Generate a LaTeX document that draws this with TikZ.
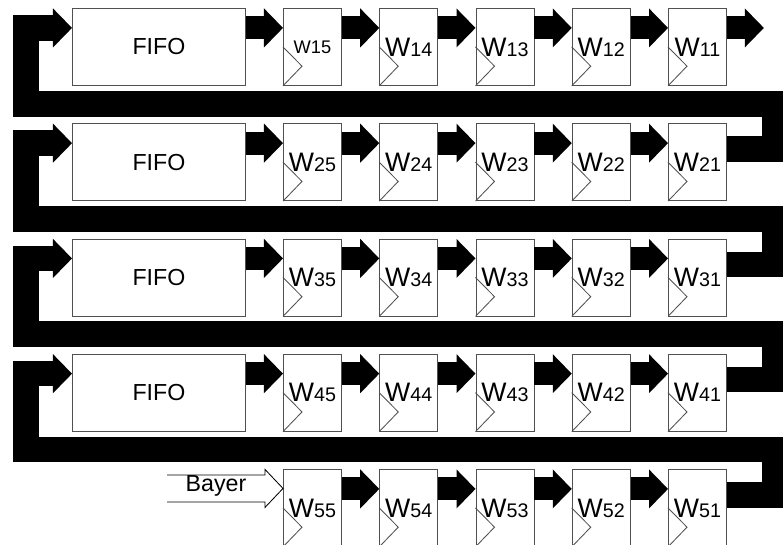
\documentclass[tikz,border=0pt]{standalone}
\usepackage{fontspec}
\setmainfont{Liberation Sans}
\usetikzlibrary{arrows.meta,calc}
\definecolor{boxgray}{HTML}{505050}
\newcommand{\wlabel}[1]{{\fontsize{19}{19}\selectfont W}{\fontsize{14}{14}\selectfont #1}}
\tikzset{
  wreg/.style={
    draw=boxgray,
    fill=white,
    line width=0.6pt,
    inner sep=0pt,
    minimum width=1.45cm,
    minimum height=1.925cm,
    anchor=north west
  },
  fifo/.style={
    wreg,
    minimum width=4.325cm,
    font=\fontsize{16.5}{16.5}\selectfont
  },
  clk/.style={
    draw=boxgray,
    line width=0.6pt
  },
  bus/.style={
    line width=0.575cm,
    -{Triangle[width=0.975cm,length=0.475cm,line width=0pt]}
  },
  feedback/.style={
    bus,
    line width=0.64cm
  }
}

\begin{document}
\begin{tikzpicture}[x=0.025cm,y=-0.025cm]
    \useasboundingbox (0,0) rectangle (783,545);
    \clip (0,0) rectangle (783,545);
    % registers
    \foreach \r/\t in {1/8,2/123.25,3/238.5,4/353.75,5/469} {
        \foreach \c/\x in {5/283,4/379.25,3/475.5,2/571.75,1/668} {
            \node[wreg] (w\r\c) at (\x,\t)
                {\ifnum\r\c=15 {\fontsize{13}{13}\selectfont W15}\else\wlabel{\r\c}\fi};
            \draw[clk] (w\r\c.west) -- ++(19,19.25) -- (w\r\c.south west);
        }
    }
    \foreach \r/\t in {1/8,2/123.25,3/238.5,4/353.75}
        \node[fifo] (fifo\r) at (72,\t) {FIFO};
    % shift chains
    \foreach \r in {1,...,5}
        \foreach \a/\b in {5/4,4/3,3/2,2/1}
            \draw[bus] ($(w\r\a.east)+(0,-19)$) -- ($(w\r\b.west)+(0,-19)$);
    \foreach \r in {1,...,4}
        \draw[bus] ($(fifo\r.east)+(0,-19)$) -- ($(w\r5.west)+(0,-19)$);
    \coordinate (out) at ($(w11.east)+(37,-19)$);
    \draw[bus] ($(w11.east)+(0,-19)$) -- (out);
    % line feedback
    \coordinate (xr) at (775,0);
    \coordinate (xl) at (26,0);
    \foreach \r/\n in {1/2,2/3,3/4,4/5} {
        \coordinate (o\n) at ($(w\n1.east)+(0,-13)$);
        \coordinate (b\r) at ($(w\n1.north)+(0,-19.5)$);
        \coordinate (i\r) at ($(fifo\r.west)+(0,-19)$);
        \draw[feedback] (o\n) -| (xr |- b\r) -- (xl |- b\r) |- (i\r);
    }
    % input
    \coordinate (bt) at ($(w55.west)+(0,-19.5)$);
    \draw[line width=0.6pt] (bt) ++(-116,-13.5) -- ++(98,0) -- ++(0,-5.5) -- (bt)
        -- ++(-18,19) -- ++(0,-5.5) -- ++(-98,0);
    \node[font=\fontsize{16.5}{16.5}\selectfont] (bayer) at (216,486) {Bayer};
\end{tikzpicture}
\end{document}
